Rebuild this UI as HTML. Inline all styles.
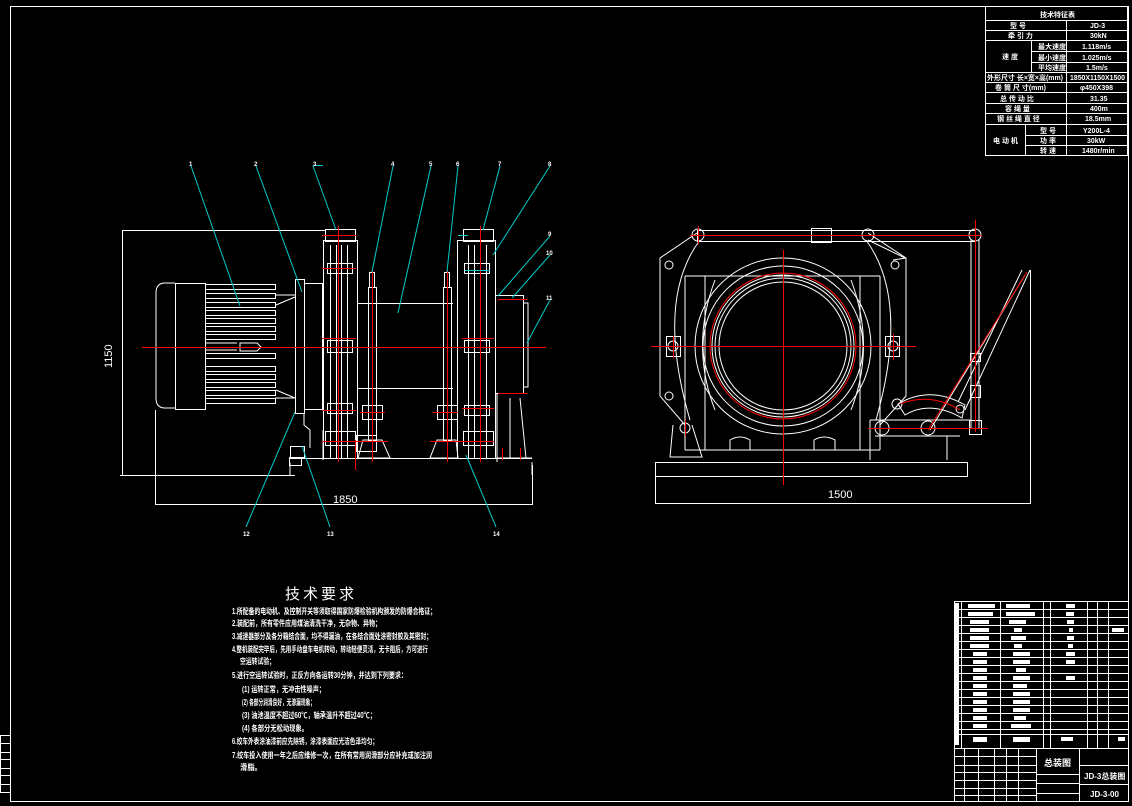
<!DOCTYPE html>
<html><head><meta charset="utf-8"><style>
html,body{margin:0;padding:0;background:#000;}
svg{display:block}
text{font-family:"Liberation Sans","Noto Sans CJK SC",sans-serif;fill:#fff;font-weight:bold}
</style></head><body>
<svg width="1132" height="806" viewBox="0 0 1132 806" xmlns="http://www.w3.org/2000/svg">
<g fill="none" stroke="#fff" stroke-width="1">
<!-- frame -->
<rect x="10.5" y="6.5" width="1118" height="795"/>
<rect x="0.5" y="735.5" width="10" height="57"/>
<line x1="0" y1="743.5" x2="10" y2="743.5"/><line x1="0" y1="752.5" x2="10" y2="752.5"/><line x1="0" y1="759.5" x2="10" y2="759.5"/><line x1="0" y1="768.5" x2="10" y2="768.5"/><line x1="0" y1="775.5" x2="10" y2="775.5"/><line x1="0" y1="784.5" x2="10" y2="784.5"/>

<!-- LEFT VIEW dims -->
<line x1="122.5" y1="230.5" x2="325" y2="230.5"/>
<line x1="120" y1="475.5" x2="295" y2="475.5"/>
<line x1="122.5" y1="230" x2="122.5" y2="476"/>
<line x1="155.5" y1="410" x2="155.5" y2="505"/>
<line x1="532.5" y1="465" x2="532.5" y2="505"/>
<line x1="155" y1="504.5" x2="533" y2="504.5"/>

<!-- motor -->
<path d="M175 283 H165 Q156 283 156 293 V398 Q156 408 165 408 H175"/>
<rect x="175.5" y="283.5" width="30" height="126"/>
<g>
<rect x="205.5" y="284.5" width="70" height="5"/><rect x="205.5" y="293.5" width="70" height="5"/><rect x="205.5" y="302.5" width="70" height="5"/><rect x="205.5" y="310.5" width="70" height="5"/><rect x="205.5" y="318.5" width="70" height="5"/><rect x="205.5" y="326.5" width="70" height="5"/><rect x="205.5" y="334.5" width="70" height="5"/>
<rect x="205.5" y="353.5" width="70" height="5"/><rect x="205.5" y="366.5" width="70" height="5"/><rect x="205.5" y="374.5" width="70" height="5"/><rect x="205.5" y="382.5" width="70" height="5"/><rect x="205.5" y="390.5" width="70" height="5"/><rect x="205.5" y="398.5" width="70" height="5"/>
<path d="M205 343 H237 M205 350 H237 M240 343 H257 L261 347 L257 351 H240 Z"/>
<path d="M275 295 H295 M275 398 H295 M276 305 L295 297 M276 390 L295 398"/>
</g>
<rect x="295.5" y="279.5" width="9" height="134"/>
<rect x="304.5" y="283.5" width="18" height="126"/>
<path d="M304 413 V425 L310 430 V448 M323 430 V460"/>
<rect x="290.5" y="446.5" width="14" height="11"/>
<!-- left frame -->
<rect x="323.5" y="240.5" width="34" height="218"/>
<rect x="325.5" y="229.5" width="30" height="12"/>
<line x1="330.5" y1="245" x2="330.5" y2="458"/><line x1="336.5" y1="245" x2="336.5" y2="458"/><line x1="341.5" y1="245" x2="341.5" y2="458"/><line x1="347.5" y1="245" x2="347.5" y2="458"/>
<rect x="327.5" y="263.5" width="25" height="10"/><rect x="327.5" y="340.5" width="25" height="12"/><rect x="327.5" y="403.5" width="25" height="10"/><rect x="325.5" y="431.5" width="30" height="14"/>
<!-- drum -->
<path d="M357 303.5 H453 M357 388.5 H453"/>
<!-- left brake -->
<rect x="368.5" y="287.5" width="8" height="153"/>
<rect x="369.5" y="272.5" width="5" height="15"/>
<path d="M363 440 H382 L390 458 H358 Z"/>
<rect x="362.5" y="405.5" width="20" height="14"/>
<rect x="356.5" y="435.5" width="20" height="16"/>
<!-- right brake -->
<rect x="443.5" y="287.5" width="8" height="153"/>
<rect x="444.5" y="272.5" width="5" height="15"/>
<path d="M437 440 H456 L458 458 H430 Z"/>
<rect x="437.5" y="405.5" width="20" height="14"/>
<!-- right frame -->
<rect x="457.5" y="240.5" width="38" height="218"/>
<rect x="463.5" y="229.5" width="30" height="12"/>
<line x1="468.5" y1="245" x2="468.5" y2="458"/><line x1="474.5" y1="245" x2="474.5" y2="458"/><line x1="480.5" y1="245" x2="480.5" y2="458"/><line x1="486.5" y1="245" x2="486.5" y2="458"/>
<rect x="464.5" y="263.5" width="25" height="10"/><rect x="464.5" y="340.5" width="25" height="12"/><rect x="464.5" y="405.5" width="25" height="10"/><rect x="463.5" y="431.5" width="30" height="14"/>
<!-- right box -->
<rect x="495.5" y="295.5" width="28" height="98"/>
<path d="M523 303 H528 V387 H523"/>
<path d="M497 393 V462 M510 398 V458 M520 398 L526 458 M497 458 H532"/>
<!-- base -->
<path d="M290 458.5 H532 M290 462.5 V475.5 M532 462 V475"/>
<rect x="289.5" y="457.5" width="12" height="8"/>
</g>

<!-- red centre lines left -->
<g stroke="#f00" stroke-width="1" fill="none">
<line x1="142" y1="347.5" x2="546" y2="347.5"/>
<line x1="338.5" y1="226" x2="338.5" y2="462"/>
<line x1="372.5" y1="270" x2="372.5" y2="462"/>
<line x1="447.5" y1="270" x2="447.5" y2="462"/>
<line x1="480.5" y1="226" x2="480.5" y2="462"/>
<line x1="322" y1="235.5" x2="356" y2="235.5"/><line x1="322" y1="268.5" x2="356" y2="268.5"/><line x1="322" y1="338.5" x2="356" y2="338.5"/><line x1="322" y1="410.5" x2="356" y2="410.5"/><line x1="322" y1="441.5" x2="388" y2="441.5"/>
<line x1="462" y1="338.5" x2="494" y2="338.5"/><line x1="462" y1="408.5" x2="494" y2="408.5"/><line x1="430" y1="441.5" x2="494" y2="441.5"/>
<line x1="360" y1="412.5" x2="385" y2="412.5"/><line x1="433" y1="412.5" x2="458" y2="412.5"/>
<line x1="498" y1="299.5" x2="527" y2="299.5"/><line x1="498" y1="393.5" x2="527" y2="393.5"/>
<line x1="355.5" y1="440" x2="355.5" y2="470"/><line x1="502.5" y1="448" x2="502.5" y2="460"/><line x1="520.5" y1="448" x2="520.5" y2="460"/>
</g>

<!-- leaders -->
<g stroke="#0cc" stroke-width="1" fill="none">
<line x1="191" y1="166" x2="240" y2="306"/>
<line x1="256" y1="166" x2="302" y2="292"/>
<line x1="313" y1="166" x2="336" y2="230"/><line x1="313" y1="165.5" x2="323" y2="165.5"/>
<line x1="393" y1="166" x2="372" y2="272"/>
<line x1="431" y1="166" x2="398" y2="313"/>
<line x1="458" y1="166" x2="447" y2="272"/>
<line x1="500" y1="166" x2="483" y2="230"/>
<line x1="550" y1="166" x2="493" y2="255"/>
<line x1="550" y1="236" x2="498" y2="296"/>
<line x1="550" y1="255" x2="512" y2="298"/>
<line x1="550" y1="300" x2="527" y2="343"/>
<line x1="246" y1="527" x2="295" y2="412"/>
<line x1="330" y1="527" x2="302" y2="446"/>
<line x1="496" y1="527" x2="466" y2="455"/>
<line x1="458" y1="235.5" x2="468" y2="235.5"/><line x1="465" y1="270.5" x2="490" y2="270.5"/>
</g>
<g font-size="6">
<text x="189" y="166">1</text><text x="254" y="166">2</text><text x="313" y="166">3</text><text x="391" y="166">4</text><text x="429" y="166">5</text><text x="456" y="166">6</text><text x="498" y="166">7</text><text x="548" y="166">8</text>
<text x="548" y="236">9</text><text x="546" y="255">10</text><text x="546" y="300">11</text>
<text x="243" y="536">12</text><text x="327" y="536">13</text><text x="493" y="536">14</text>
</g>
<text x="112" y="368" font-size="11" font-weight="normal" transform="rotate(-90 112 368)" style="font-weight:normal">1150</text>
<text x="333" y="503" font-size="11" style="font-weight:normal">1850</text>

<!-- RIGHT VIEW -->
<g fill="none" stroke="#fff" stroke-width="1">
<rect x="655.5" y="462.5" width="312" height="14"/>
<path d="M655.5 476 V503.5 H1030.5 V270"/>
<path d="M697 233 L660 258 V396 L685 425 M868 233 L906 258 V396 L880 425"/>
<path d="M700 240 Q655 300 690 420 M866 240 Q910 300 876 420"/>
<path d="M685 276 H880 M685 276 V450 M880 276 V450 M705 276 V450 M860 276 V450"/>
<path d="M685 450 H880 M730 450 V440 Q740 434 750 440 V450 M814 450 V440 Q824 434 835 440 V450"/>
<path d="M673 425 L670 457 H702 L692 425"/>
<circle cx="783" cy="346" r="88"/>
<circle cx="783" cy="346" r="80"/>
<circle cx="783" cy="346" r="71"/>
<circle cx="783" cy="346" r="68"/>
<circle cx="783" cy="346" r="64"/>
<path d="M715 280 Q690 346 715 410 M851 280 Q876 346 851 410"/>
<rect x="666.5" y="336.5" width="14" height="20"/><circle cx="673" cy="346" r="5"/>
<rect x="885.5" y="336.5" width="14" height="20"/><circle cx="893" cy="346" r="5"/>
<circle cx="669" cy="265" r="4"/><circle cx="895" cy="265" r="4"/><circle cx="669" cy="396" r="4"/><circle cx="685" cy="428" r="5"/>
<!-- lever -->
<rect x="697.5" y="230.5" width="278" height="11"/>
<rect x="811.5" y="228.5" width="20" height="14"/>
<circle cx="698" cy="235" r="6"/><circle cx="868" cy="235" r="6"/><circle cx="975" cy="235" r="6"/>
<path d="M971 240 V428 M979 240 V428"/>
<rect x="970.5" y="353.5" width="10" height="8"/><rect x="970.5" y="385.5" width="10" height="12"/>
<path d="M868 240 L905 258 M893 260 L906 258"/>
<path d="M1022 270 L958 402 M1030 270 L965 410 M1025 275 L930 430"/>
<path d="M898 404 Q930 385 965 405 L962 418 Q930 400 905 415 Z"/>
<circle cx="897" cy="404" r="5"/><circle cx="960" cy="409" r="4"/>
<circle cx="882" cy="428" r="7"/><circle cx="928" cy="428" r="7"/><rect x="969.5" y="420.5" width="12" height="14"/>
<path d="M870 420 H970 M870 420 V460 M947 436 V460 M875 436 L960 436"/>
</g>
<g stroke="#f00" stroke-width="1" fill="none">
<line x1="651" y1="346.5" x2="916" y2="346.5"/>
<line x1="783.5" y1="250" x2="783.5" y2="485"/>
<circle cx="783" cy="346" r="73"/>
<line x1="690" y1="235.5" x2="982" y2="235.5"/>
<line x1="975.5" y1="220" x2="975.5" y2="432"/>
<line x1="868" y1="428.5" x2="988" y2="428.5"/>
<line x1="1027" y1="272" x2="928" y2="430"/>
<path d="M900 404 Q930 392 960 410"/>
<line x1="698.5" y1="226" x2="698.5" y2="244"/><line x1="685.5" y1="420" x2="685.5" y2="436"/>
<line x1="893.5" y1="334" x2="893.5" y2="360"/><line x1="673.5" y1="336" x2="673.5" y2="358"/>
</g>
<text x="828" y="498" font-size="11" style="font-weight:normal">1500</text>

<!-- TECH TABLE -->
<g fill="none" stroke="#fff" stroke-width="1">
<rect x="985.5" y="6.5" width="142" height="149"/>
<line x1="985" y1="20.5" x2="1128" y2="20.5"/><line x1="985" y1="30.5" x2="1128" y2="30.5"/><line x1="985" y1="40.5" x2="1128" y2="40.5"/>
<line x1="1031" y1="51.5" x2="1128" y2="51.5"/><line x1="1031" y1="62.5" x2="1128" y2="62.5"/>
<line x1="985" y1="72.5" x2="1128" y2="72.5"/><line x1="985" y1="82.5" x2="1128" y2="82.5"/><line x1="985" y1="92.5" x2="1128" y2="92.5"/><line x1="985" y1="103.5" x2="1128" y2="103.5"/><line x1="985" y1="113.5" x2="1128" y2="113.5"/><line x1="985" y1="124.5" x2="1128" y2="124.5"/>
<line x1="1025" y1="135.5" x2="1128" y2="135.5"/><line x1="1025" y1="145.5" x2="1128" y2="145.5"/>
<line x1="1066.5" y1="20" x2="1066.5" y2="156"/>
<line x1="1031.5" y1="40" x2="1031.5" y2="72"/><line x1="1025.5" y1="124" x2="1025.5" y2="156"/>
</g>
<g font-size="7">
<text x="1040" y="17">技术特征表</text>
<text x="1010" y="28">型 号</text><text x="1090" y="28">JD-3</text>
<text x="1008" y="38">牵 引 力</text><text x="1090" y="38">30kN</text>
<text x="1002" y="59">速 度</text>
<text x="1038" y="49">最大速度</text><text x="1082" y="49">1.118m/s</text>
<text x="1038" y="60">最小速度</text><text x="1082" y="60">1.025m/s</text>
<text x="1038" y="70">平均速度</text><text x="1086" y="70">1.5m/s</text>
<text x="987" y="80" textLength="76" lengthAdjust="spacingAndGlyphs">外形尺寸 长×宽×高(mm)</text><text x="1070" y="80" textLength="55" lengthAdjust="spacingAndGlyphs">1850X1150X1500</text>
<text x="995" y="90">卷 筒 尺 寸(mm)</text><text x="1080" y="90">φ450X398</text>
<text x="1000" y="101">总 传 动 比</text><text x="1090" y="101">31.35</text>
<text x="1005" y="111">容 绳 量</text><text x="1090" y="111">400m</text>
<text x="997" y="121">钢 丝 绳 直 径</text><text x="1085" y="121">18.5mm</text>
<text x="993" y="143">电 动 机</text>
<text x="1040" y="133">型 号</text><text x="1083" y="133">Y200L-4</text>
<text x="1040" y="143">功 率</text><text x="1087" y="143">30kW</text>
<text x="1040" y="153">转 速</text><text x="1082" y="153">1480r/min</text>
</g>

<!-- technical requirements -->
<text x="285" y="599" font-size="15" style="font-weight:normal" letter-spacing="3">技术要求</text>
<g font-size="8">
<text x="232" y="614" textLength="204" lengthAdjust="spacingAndGlyphs">1.所配备的电动机、及控制开关等须取得国家防爆检验机构颁发的防爆合格证；</text>
<text x="232" y="626" textLength="149" lengthAdjust="spacingAndGlyphs">2.装配前，所有零件应用煤油清洗干净，无杂物、异物；</text>
<text x="232" y="639" textLength="200" lengthAdjust="spacingAndGlyphs">3.减速器部分及各分箱结合面，均不得漏油，在各结合面处涂密封胶及其密封；</text>
<text x="232" y="652" textLength="196" lengthAdjust="spacingAndGlyphs">4.整机装配完毕后，先用手动盘车电机转动，转动轻便灵活，无卡阻后，方可进行</text>
<text x="240" y="664" textLength="35" lengthAdjust="spacingAndGlyphs">空运转试验；</text>
<text x="232" y="678" textLength="175" lengthAdjust="spacingAndGlyphs">5.进行空运转试验时，正反方向各运转30分钟，并达到下列要求：</text>
<text x="242" y="692" textLength="83" lengthAdjust="spacingAndGlyphs">(1) 运转正常，无冲击性噪声；</text>
<text x="242" y="705" textLength="73" lengthAdjust="spacingAndGlyphs">(2) 各部分润滑良好，无渗漏现象；</text>
<text x="242" y="718" textLength="134" lengthAdjust="spacingAndGlyphs">(3) 油池温度不超过60℃，轴承温升不超过40℃；</text>
<text x="242" y="731" textLength="66" lengthAdjust="spacingAndGlyphs">(4) 各部分无松动现象。</text>
<text x="232" y="744" textLength="146" lengthAdjust="spacingAndGlyphs">6.绞车外表涂油漆前应先除锈，涂漆表面应光洁色泽均匀；</text>
<text x="232" y="758" textLength="200" lengthAdjust="spacingAndGlyphs">7.绞车投入使用一年之后应维修一次，在所有常用润滑部分应补充或加注润</text>
<text x="240" y="770" textLength="22" lengthAdjust="spacingAndGlyphs">滑脂。</text>
</g>

<!-- parts list / title block -->
<g fill="none" stroke="#fff" stroke-width="1">
<rect x="954.5" y="601.5" width="174" height="200"/>
<line x1="955" y1="609.5" x2="1128" y2="609.5"/><line x1="955" y1="617.5" x2="1128" y2="617.5"/><line x1="955" y1="625.5" x2="1128" y2="625.5"/><line x1="955" y1="633.5" x2="1128" y2="633.5"/><line x1="955" y1="641.5" x2="1128" y2="641.5"/><line x1="955" y1="649.5" x2="1128" y2="649.5"/><line x1="955" y1="657.5" x2="1128" y2="657.5"/><line x1="955" y1="665.5" x2="1128" y2="665.5"/><line x1="955" y1="673.5" x2="1128" y2="673.5"/><line x1="955" y1="681.5" x2="1128" y2="681.5"/><line x1="955" y1="689.5" x2="1128" y2="689.5"/><line x1="955" y1="697.5" x2="1128" y2="697.5"/><line x1="955" y1="705.5" x2="1128" y2="705.5"/><line x1="955" y1="713.5" x2="1128" y2="713.5"/><line x1="955" y1="721.5" x2="1128" y2="721.5"/><line x1="955" y1="729.5" x2="1128" y2="729.5"/><line x1="955" y1="734.5" x2="1128" y2="734.5"/><line x1="955" y1="748.5" x2="1128" y2="748.5"/>
<line x1="961.5" y1="602" x2="961.5" y2="748"/><line x1="1000.5" y1="602" x2="1000.5" y2="748"/><line x1="1043.5" y1="602" x2="1043.5" y2="748"/><line x1="1050.5" y1="602" x2="1050.5" y2="748"/><line x1="1087.5" y1="602" x2="1087.5" y2="748"/><line x1="1097.5" y1="602" x2="1097.5" y2="748"/><line x1="1108.5" y1="602" x2="1108.5" y2="748"/>
<line x1="1036.5" y1="748" x2="1036.5" y2="802"/><line x1="1079.5" y1="748" x2="1079.5" y2="802"/>
<line x1="1079" y1="765.5" x2="1128" y2="765.5"/><line x1="1079" y1="784.5" x2="1128" y2="784.5"/>
<line x1="1036" y1="774.5" x2="1079" y2="774.5"/><line x1="1036" y1="783.5" x2="1079" y2="783.5"/><line x1="1036" y1="793.5" x2="1079" y2="793.5"/>
<line x1="955" y1="756.5" x2="1036" y2="756.5"/><line x1="955" y1="765.5" x2="1036" y2="765.5"/><line x1="955" y1="772.5" x2="1036" y2="772.5"/><line x1="955" y1="780.5" x2="1036" y2="780.5"/><line x1="955" y1="788.5" x2="1036" y2="788.5"/><line x1="955" y1="795.5" x2="1036" y2="795.5"/>
<line x1="964.5" y1="748" x2="964.5" y2="802"/><line x1="978.5" y1="748" x2="978.5" y2="802"/><line x1="994.5" y1="748" x2="994.5" y2="802"/><line x1="1006.5" y1="748" x2="1006.5" y2="802"/><line x1="1018.5" y1="748" x2="1018.5" y2="802"/>
</g>
<g fill="#fff">
<rect x="968" y="604" width="27" height="4"/><rect x="1006" y="604" width="24" height="4"/><rect x="1066" y="604" width="9" height="4"/>
<rect x="968" y="612" width="25" height="4"/><rect x="1006" y="612" width="29" height="4"/><rect x="1066" y="612" width="8" height="4"/>
<rect x="970" y="620" width="19" height="4"/><rect x="1009" y="620" width="17" height="4"/><rect x="1067" y="620" width="7" height="4"/>
<rect x="970" y="628" width="19" height="4"/><rect x="1014" y="628" width="8" height="4"/><rect x="1069" y="628" width="4" height="4"/><rect x="1112" y="628" width="12" height="4"/>
<rect x="970" y="636" width="19" height="4"/><rect x="1011" y="636" width="15" height="4"/><rect x="1067" y="636" width="7" height="4"/>
<rect x="970" y="644" width="19" height="4"/><rect x="1014" y="644" width="8" height="4"/><rect x="1068" y="644" width="5" height="4"/>
<rect x="973" y="652" width="14" height="4"/><rect x="1013" y="652" width="17" height="4"/><rect x="1066" y="652" width="9" height="4"/>
<rect x="973" y="660" width="14" height="4"/><rect x="1013" y="660" width="17" height="4"/><rect x="1066" y="660" width="9" height="4"/>
<rect x="973" y="668" width="14" height="4"/><rect x="1016" y="668" width="10" height="4"/>
<rect x="973" y="676" width="14" height="4"/><rect x="1013" y="676" width="17" height="4"/><rect x="1066" y="676" width="9" height="4"/>
<rect x="973" y="684" width="14" height="4"/><rect x="1013" y="684" width="14" height="4"/>
<rect x="973" y="692" width="14" height="4"/><rect x="1013" y="692" width="17" height="4"/>
<rect x="973" y="700" width="14" height="4"/><rect x="1013" y="700" width="17" height="4"/>
<rect x="973" y="708" width="14" height="4"/><rect x="1013" y="708" width="17" height="4"/>
<rect x="973" y="716" width="14" height="4"/><rect x="1014" y="716" width="12" height="4"/>
<rect x="973" y="724" width="14" height="4"/><rect x="1011" y="724" width="20" height="4"/>
<rect x="973" y="737" width="14" height="5"/><rect x="1013" y="737" width="17" height="5"/><rect x="1061" y="737" width="12" height="4"/><rect x="1118" y="737" width="7" height="4"/>
<rect x="955" y="603" width="4" height="142"/>
</g>
<text x="1044" y="766" font-size="9">总装图</text>
<text x="1084" y="779" font-size="8">JD-3总装图</text>
<text x="1090" y="797" font-size="8">JD-3-00</text>
</svg>
</body></html>
